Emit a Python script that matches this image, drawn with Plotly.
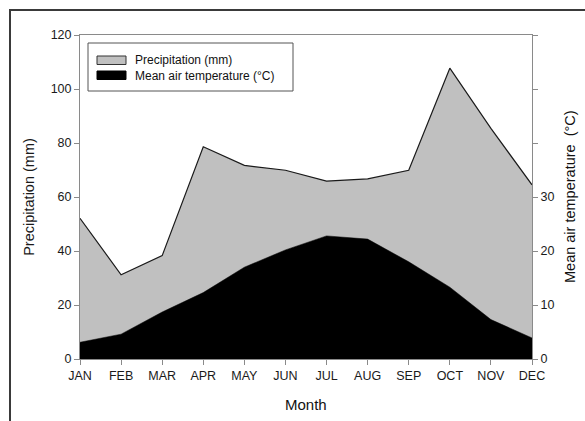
import plotly.graph_objects as go

months = ["JAN", "FEB", "MAR", "APR", "MAY", "JUN",
          "JUL", "AUG", "SEP", "OCT", "NOV", "DEC"]
precipitation_mm = [52.1, 31.2, 38.3, 78.6, 71.7, 69.9,
                    65.9, 66.7, 69.9, 107.7, 85.4, 64.5]
mean_temp_c = [3.1, 4.6, 8.7, 12.3, 17.0, 20.2,
               22.8, 22.2, 18.0, 13.3, 7.3, 3.9]

left_ticks = [0, 20, 40, 60, 80, 100, 120]
right_ticks = [0, 10, 20, 30, 40, 50, 60]
right_labels = ["0", "10", "20", "30", "", "", ""]

FONT = "Liberation Sans, Arial, Helvetica, sans-serif"
AXIS_GRAY = "#8a8a8a"

fig = go.Figure()

fig.add_trace(go.Scatter(
    x=months, y=precipitation_mm, mode="lines", fill="tozeroy",
    fillcolor="#c0c0c0", line=dict(color="#1a1a1a", width=1.2),
    name="Precipitation (mm)", showlegend=False, yaxis="y",
))
fig.add_trace(go.Scatter(
    x=months, y=mean_temp_c, mode="lines", fill="tozeroy",
    fillcolor="#000000", line=dict(color="#000000", width=0.5),
    name="Mean air temperature (°C)", showlegend=False, yaxis="y2",
))

# plot area in pixels: x 80..532, y 35..359
L, R, T, B = 80, 532, 35, 359
W, H = R - L, B - T


def px(x):
    return (x - L) / W


def py(y):
    return (B - y) / H


shapes = [
    # outer frame
    dict(type="rect", xref="paper", yref="paper",
         x0=px(10), x1=px(600), y0=py(10), y1=py(440),
         line=dict(color="#3a3a3a", width=2), fillcolor="rgba(0,0,0,0)",
         layer="above"),
    # legend box
    dict(type="rect", xref="paper", yref="paper",
         x0=px(88), x1=px(293), y0=py(43), y1=py(91),
         line=dict(color="#555555", width=1), fillcolor="white"),
    dict(type="rect", xref="paper", yref="paper",
         x0=px(97), x1=px(126), y0=py(56), y1=py(64.5),
         line=dict(color="#333333", width=1), fillcolor="#c0c0c0"),
    dict(type="rect", xref="paper", yref="paper",
         x0=px(97), x1=px(126), y0=py(71), y1=py(79.5),
         line=dict(color="#000000", width=1), fillcolor="#000000"),
]

annotations = [
    dict(text="Precipitation (mm)", xref="paper", yref="paper",
         x=px(133), y=py(60), xanchor="left", yanchor="middle",
         showarrow=False, font=dict(family=FONT, size=12, color="#111")),
    dict(text="Mean air temperature (°C)", xref="paper", yref="paper",
         x=px(133), y=py(75.5), xanchor="left", yanchor="middle",
         showarrow=False, font=dict(family=FONT, size=12, color="#111")),
    # right-hand axis title
    dict(text="Mean air temperature\u00a0\u00a0(°C)", xref="paper",
         yref="paper", x=px(570), y=0.5, xanchor="center",
         yanchor="middle", textangle=-90, showarrow=False,
         font=dict(family=FONT, size=14.5, color="#111")),
    # x-axis title
    dict(text="Month", xref="paper", yref="paper",
         x=px(306), y=py(404), xanchor="center", yanchor="middle",
         showarrow=False, font=dict(family=FONT, size=15, color="#111")),
]

fig.update_layout(
    width=585, height=421,
    margin=dict(l=L, r=585 - R, t=T, b=421 - B),
    paper_bgcolor="white", plot_bgcolor="white",
    font=dict(family=FONT, size=12, color="#1a1a1a"),
    shapes=shapes, annotations=annotations,
    xaxis=dict(
        type="category", range=[0, 11], showgrid=False, zeroline=False,
        showline=True, linecolor=AXIS_GRAY, linewidth=1, mirror=True,
        ticks="outside", ticklen=5, tickcolor=AXIS_GRAY,
        tickfont=dict(size=12.5),
    ),
    yaxis=dict(
        range=[0, 120], tickvals=left_ticks, showgrid=False, zeroline=False,
        showline=True, linecolor=AXIS_GRAY, linewidth=1,
        ticks="outside", ticklen=5, tickcolor=AXIS_GRAY,
        tickfont=dict(size=12.5),
        title=dict(text="Precipitation (mm)", font=dict(size=14.5),
                   standoff=12),
    ),
    yaxis2=dict(
        range=[0, 60], overlaying="y", side="right",
        tickvals=right_ticks, ticktext=right_labels,
        showgrid=False, zeroline=False,
        showline=True, linecolor=AXIS_GRAY, linewidth=1,
        ticks="outside", ticklen=5, tickcolor=AXIS_GRAY,
        tickfont=dict(size=12.5),
    ),
)

fig.write_html("out.html")
